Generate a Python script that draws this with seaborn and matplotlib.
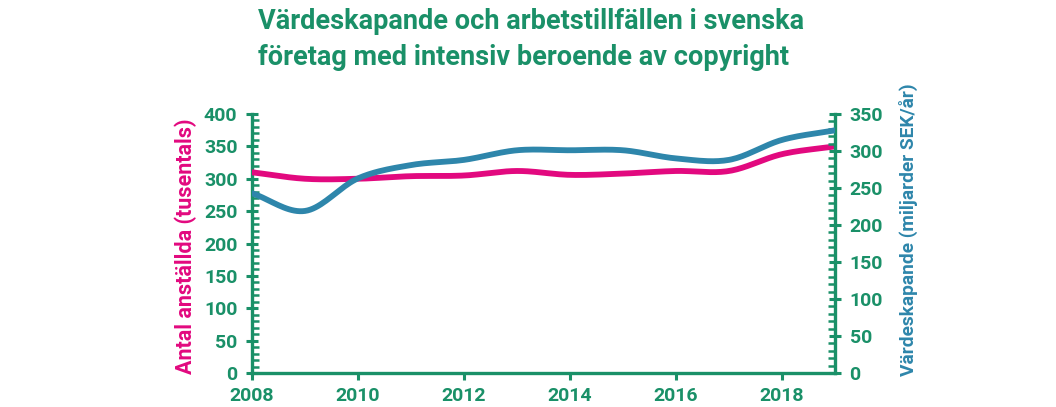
import numpy as np
import pandas as pd
import matplotlib
matplotlib.use("Agg")
import matplotlib.pyplot as plt
from matplotlib.ticker import MultipleLocator
import seaborn as sns

years = [2008, 2009, 2010, 2011, 2012, 2013, 2014, 2015, 2016, 2017, 2018, 2019]
employees = [310, 300, 300, 304, 305, 312, 306, 308, 312, 312, 338, 350]
value_added = [243, 219, 263, 281, 288, 301, 301, 301, 290, 288, 315, 328]

title = "Värdeskapande och arbetstillfällen i svenska\nföretag med intensiv beroende av copyright"
left_label = "Antal anställda (tusentals)"
right_label = "Värdeskapande (miljarder SEK/år)"
xticks = [2008, 2010, 2012, 2014, 2016, 2018]

GREEN = "#1a9068"
PINK = "#e2097f"
BLUE = "#2e86ab"


def smooth(x, y, n=20):
    # Catmull-Rom curve through the data points (drawing only)
    x = np.asarray(x, float); y = np.asarray(y, float)
    px = np.concatenate([[2 * x[0] - x[1]], x, [2 * x[-1] - x[-2]]])
    py = np.concatenate([[2 * y[0] - y[1]], y, [2 * y[-1] - y[-2]]])
    xs, ys = [], []
    for i in range(1, len(px) - 2):
        t = np.linspace(0, 1, n, endpoint=False)
        for arr, out in ((px, xs), (py, ys)):
            p0, p1, p2, p3 = arr[i - 1], arr[i], arr[i + 1], arr[i + 2]
            out.extend(0.5 * ((2 * p1) + (-p0 + p2) * t + (2 * p0 - 5 * p1 + 4 * p2 - p3) * t ** 2
                              + (-p0 + 3 * p1 - 3 * p2 + p3) * t ** 3))
    xs.append(x[-1]); ys.append(y[-1])
    return np.array(xs), np.array(ys)


sns.set_theme(style="white")
plt.rcParams["font.family"] = ["Roboto", "DejaVu Sans"]
plt.rcParams["font.weight"] = "bold"

fig = plt.figure(figsize=(10.56, 4.07), dpi=100)
ax = fig.add_axes([0.2386, 0.0835, 0.5521, 0.6364])
ax2 = ax.twinx()

ex, ey = smooth(years, employees)
vx, vy = smooth(years, value_added)
sns.lineplot(x=ex, y=ey, ax=ax, color=PINK, linewidth=4.2, sort=False, zorder=3)
sns.lineplot(x=vx, y=vy, ax=ax2, color=BLUE, linewidth=4.2, sort=False, zorder=3)

ax.set_xlim(2008, 2019)
ax.set_ylim(0, 400)
ax2.set_ylim(0, 350)

ax.set_xticks(xticks)
ax.set_xticklabels([str(t) for t in xticks])
ax.yaxis.set_major_locator(MultipleLocator(50))
ax.yaxis.set_minor_locator(MultipleLocator(10))
ax2.yaxis.set_major_locator(MultipleLocator(50))
ax2.yaxis.set_minor_locator(MultipleLocator(10))

for a in (ax, ax2):
    for s in a.spines.values():
        s.set_visible(False)
    a.grid(False)
ax.spines["left"].set_visible(True)
ax.spines["bottom"].set_visible(True)
ax2.spines["right"].set_visible(True)
for s in (ax.spines["left"], ax.spines["bottom"], ax2.spines["right"]):
    s.set_color(GREEN)
    s.set_linewidth(2.4)

ax.tick_params(axis="y", which="major", direction="inout", length=9, width=2.2, color=GREEN,
               labelcolor=GREEN, labelsize=14, pad=6, left=True)
ax.tick_params(axis="y", which="minor", direction="in", length=5, width=1.8, color=GREEN, left=True)
ax.tick_params(axis="x", which="major", direction="out", length=5, width=2.2, color=GREEN,
               labelcolor=GREEN, labelsize=14, pad=5, bottom=True)
ax2.tick_params(axis="y", which="major", direction="inout", length=9, width=2.2, color=GREEN,
                labelcolor=GREEN, labelsize=14, pad=6, right=True)
ax2.tick_params(axis="y", which="minor", direction="in", length=5, width=1.8, color=GREEN, right=True)
for lbl in ax.get_xticklabels() + ax.get_yticklabels() + ax2.get_yticklabels():
    lbl.set_fontweight("bold")

ax.set_xlabel("")
ax.set_ylabel(left_label, color=PINK, fontsize=15.5, fontweight="bold")
ax2.set_ylabel(right_label, color=BLUE, fontsize=13.8, fontweight="bold")
ax.yaxis.label.set_horizontalalignment("left")
ax.yaxis.label.set_verticalalignment("center")
ax.yaxis.set_label_coords(-0.114, -0.004)
ax2.yaxis.label.set_rotation(90)
ax2.yaxis.label.set_horizontalalignment("left")
ax2.yaxis.label.set_verticalalignment("center")
ax2.yaxis.set_label_coords(1.126, -0.012)

fig.text(0.244, 0.98, title, color=GREEN, fontsize=19.5, fontweight="bold",
         ha="left", va="top", linespacing=1.42)

fig.savefig("out.png", dpi=100)
